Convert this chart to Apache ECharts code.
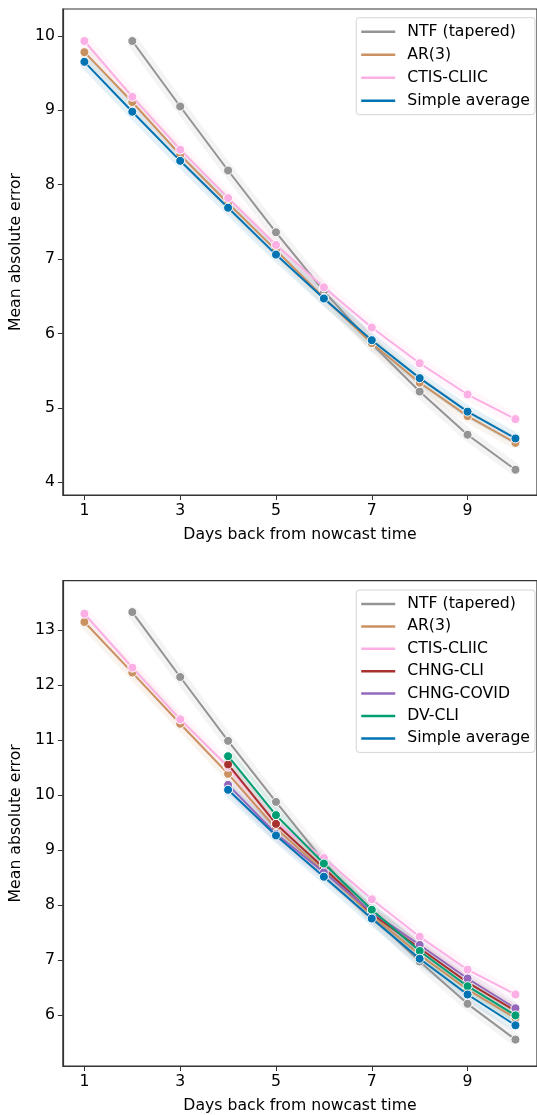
<!DOCTYPE html>
<html>
<head>
<meta charset="utf-8">
<script src="https://cdn.jsdelivr.net/npm/echarts@6/dist/echarts.min.js"></script>
<style>
html,body{margin:0;padding:0;background:#fff;}
#chart{width:537px;height:1115px;}
</style>
</head>
<body>
<div id="chart"></div>
<script>
// ---- data ----
const days = [1, 2, 3, 4, 5, 6, 7, 8, 9, 10];
const xTicks = [1, 3, 5, 7, 9];
const topYTicks = [4, 5, 6, 7, 8, 9, 10];
const botYTicks = [6, 7, 8, 9, 10, 11, 12, 13];

const topNTF  = [null, 9.93, 9.05, 8.19, 7.36, 6.57, 5.86, 5.22, 4.64, 4.17];
const topAR   = [9.78, 9.11, 8.40, 7.75, 7.12, 6.48, 5.87, 5.34, 4.89, 4.53];
const topCTIS = [9.93, 9.18, 8.47, 7.82, 7.19, 6.62, 6.08, 5.60, 5.18, 4.85];
const topAvg  = [9.65, 8.98, 8.32, 7.69, 7.06, 6.47, 5.91, 5.40, 4.95, 4.59];

const botNTF       = [null, 13.33, 12.15, 10.99, 9.88, 8.80, 7.80, 6.98, 6.21, 5.56];
const botAR        = [13.15, 12.23, 11.30, 10.39, 9.40, 8.62, 7.82, 7.10, 6.47, 5.95];
const botCTIS      = [13.30, 12.32, 11.38, 10.52, 9.50, 8.86, 8.11, 7.43, 6.83, 6.38];
const botCHNGCLI   = [null, null, null, 10.56, 9.48, 8.68, 7.85, 7.22, 6.60, 6.08];
const botCHNGCOVID = [null, null, null, 10.19, 9.30, 8.60, 7.88, 7.28, 6.67, 6.13];
const botDVCLI     = [null, null, null, 10.71, 9.64, 8.76, 7.92, 7.17, 6.53, 6.00];
const botAvg       = [null, null, null, 10.10, 9.27, 8.52, 7.76, 7.03, 6.38, 5.82];

const topNames = ['NTF (tapered)', 'AR(3)', 'CTIS-CLIIC', 'Simple average'];
const botNames = ['NTF (tapered)', 'AR(3)', 'CTIS-CLIIC', 'CHNG-CLI', 'CHNG-COVID', 'DV-CLI', 'Simple average'];

// ---- styles ----
const colors = {
  'NTF (tapered)': '#949494',
  'AR(3)': '#ca9161',
  'CTIS-CLIIC': '#fbafe4',
  'CHNG-CLI': '#a8302f',
  'CHNG-COVID': '#9467bd',
  'DV-CLI': '#029e73',
  'Simple average': '#0173b2'
};
const FONT = 'DejaVu Sans';
const FS = 15.7;

function pairs(arr) {
  const out = [];
  arr.forEach((v, i) => { if (v !== null) out.push([days[i], v]); });
  return out;
}

function makeSeries(names, arrays, gi) {
  const s = [];
  names.forEach((n, k) => {
    s.push({
      name: n + ' band', type: 'line', xAxisIndex: gi, yAxisIndex: gi,
      data: pairs(arrays[k]), showSymbol: false, silent: true, z: 1,
      lineStyle: { color: colors[n], width: 12, opacity: 0.1, cap: 'butt', join: 'miter' },
      animation: false
    });
  });
  names.forEach((n, k) => {
    s.push({
      name: n, type: 'line', xAxisIndex: gi, yAxisIndex: gi,
      data: pairs(arrays[k]), symbol: 'circle', symbolSize: 9, showSymbol: true, z: 3 + k,
      lineStyle: { color: colors[n], width: 2 },
      itemStyle: { color: colors[n], borderColor: '#fff', borderWidth: 1 },
      animation: false
    });
  });
  return s;
}

function xAxisCfg(gi) {
  return {
    type: 'value', gridIndex: gi, min: 0.55, max: 10.45,
    name: 'Days back from nowcast time', nameLocation: 'middle', nameGap: 32,
    nameTextStyle: { fontFamily: FONT, fontSize: FS, color: '#000' },
    axisLine: { show: true, lineStyle: { color: '#333', width: 1.2 } },
    axisTick: { show: true, length: 5, inside: false, customValues: xTicks, lineStyle: { color: '#333' } },
    axisLabel: { customValues: xTicks, fontFamily: FONT, fontSize: FS, color: '#000', margin: 8 },
    splitLine: { show: false }
  };
}
function yAxisCfg(gi, min, max, ticks) {
  return {
    type: 'value', gridIndex: gi, min: min, max: max,
    name: 'Mean absolute error', nameLocation: 'middle', nameGap: 35, nameRotate: 90,
    nameTextStyle: { fontFamily: FONT, fontSize: FS, color: '#000' },
    axisLine: { show: true, lineStyle: { color: '#333', width: 1.2 } },
    axisTick: { show: true, length: 5, inside: false, customValues: ticks, lineStyle: { color: '#333' } },
    axisLabel: { customValues: ticks, fontFamily: FONT, fontSize: FS, color: '#000', margin: 8 },
    splitLine: { show: false }
  };
}

function legendCfg(names, top, gap) {
  return {
    data: names.map(n => ({ name: n, itemStyle: { color: colors[n], borderWidth: 0 } })),
    top: top, right: 2, orient: 'vertical',
    icon: 'rect', itemWidth: 34, itemHeight: 2.5, itemGap: gap,
    padding: [6, 5, 6, 5],
    itemStyle: { borderWidth: 0 },
    borderColor: '#d5d5d5', borderWidth: 1, borderRadius: 3, backgroundColor: 'rgba(255,255,255,0.8)',
    textStyle: { fontFamily: FONT, fontSize: FS, color: '#000', lineHeight: 16, padding: [0, 0, 0, 7] },
    selectedMode: false
  };
}

const chart = echarts.init(document.getElementById('chart'), null, { renderer: 'canvas' });
chart.setOption({
  backgroundColor: '#fff',
  animation: false,
  grid: [
    { left: 62, top: 9, width: 484, height: 486, show: true, borderColor: '#333', borderWidth: 1.2, backgroundColor: 'transparent' },
    { left: 62, top: 580.7, width: 484, height: 486, show: true, borderColor: '#333', borderWidth: 1.2, backgroundColor: 'transparent' }
  ],
  xAxis: [xAxisCfg(0), xAxisCfg(1)],
  yAxis: [yAxisCfg(0, 3.83, 10.36, topYTicks), yAxisCfg(1, 5.08, 13.9, botYTicks)],
  legend: [legendCfg(topNames, 17.7, 7), legendCfg(botNames, 590, 6.4)],
  series: makeSeries(topNames, [topNTF, topAR, topCTIS, topAvg], 0)
    .concat(makeSeries(botNames, [botNTF, botAR, botCTIS, botCHNGCLI, botCHNGCOVID, botDVCLI, botAvg], 1))
});
</script>
</body>
</html>
